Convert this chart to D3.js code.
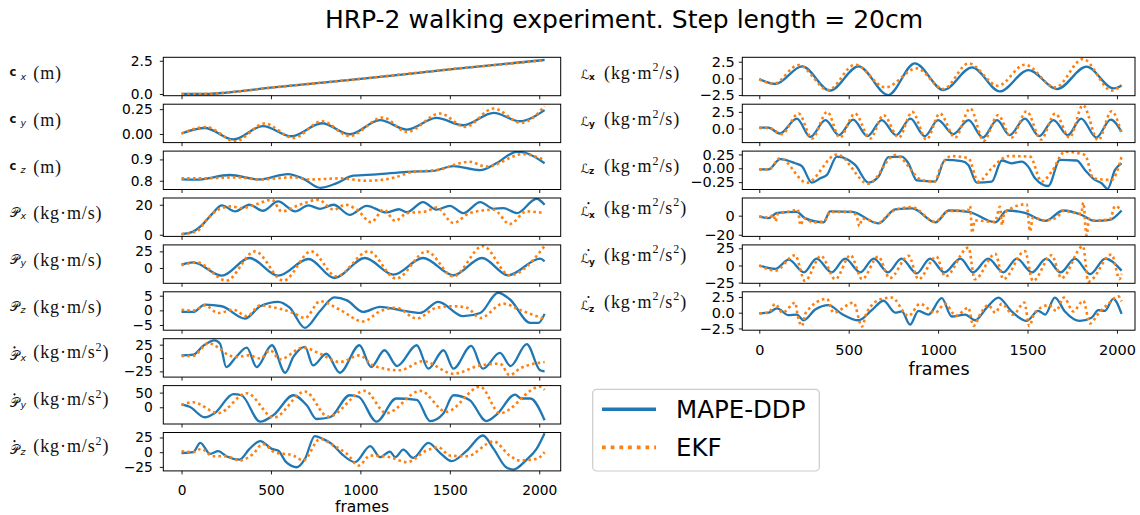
<!DOCTYPE html>
<html><head><meta charset="utf-8">
<script src="https://cdn.jsdelivr.net/npm/d3@7/dist/d3.min.js"></script>
<style>html,body{margin:0;padding:0;background:#fff;} svg{display:block;}</style>
</head><body>
<svg id="chart" width="1140" height="515" xmlns="http://www.w3.org/2000/svg"></svg>
<script>
// ---------------- DATA (frame, value) ----------------
const titleText = "HRP-2 walking experiment. Step length = 20cm";
const seriesNames = ["MAPE-DDP", "EKF"];
const frameTicks = [0, 500, 1000, 1500, 2000];

const cx_mape = [[0,0],[100,0],[160,0.01],[250,0.1],[500,0.47],[1000,1.13],[1500,1.85],[2000,2.52],[2030,2.56]];
const cx_ekf  = [[0,0],[100,0],[160,0.01],[250,0.1],[500,0.47],[1000,1.14],[1500,1.86],[2000,2.52],[2030,2.57]];
const cy_mape = [[0,0.005],[130,0.06],[290,-0.055],[455,0.08],[615,-0.023],[785,0.108],[940,-0.003],[1110,0.139],[1260,0.044],[1425,0.162],[1575,0.088],[1745,0.213],[1890,0.128],[2030,0.24]];
const cy_ekf  = [[0,0.005],[140,0.07],[300,-0.074],[465,0.105],[625,-0.04],[785,0.128],[940,-0.02],[1125,0.166],[1260,0.02],[1445,0.206],[1585,0.071],[1745,0.257],[1900,0.111],[2030,0.28]];
const cz_mape = [[0,0.806],[85,0.805],[270,0.827],[430,0.806],[595,0.831],[680,0.81],[775,0.767],[865,0.788],[960,0.824],[1090,0.83],[1260,0.842],[1405,0.846],[1520,0.869],[1670,0.85],[1760,0.882],[1875,0.936],[1930,0.929],[2030,0.882]];
const cz_ekf  = [[0,0.811],[120,0.811],[310,0.816],[440,0.806],[625,0.816],[720,0.806],[885,0.811],[1035,0.80],[1185,0.814],[1295,0.842],[1425,0.85],[1610,0.889],[1705,0.866],[1910,0.925],[2030,0.897]];

const px_mape = [[0,0.4],[65,2.2],[120,7.1],[175,14.4],[225,19.6],[300,15.6],[380,20],[455,16],[540,22.2],[635,15.6],[710,19.6],[775,17.3],[850,20],[940,13.3],[1035,19.3],[1145,14.9],[1215,17],[1260,15],[1350,21.8],[1425,16.7],[1500,19.3],[1575,14.4],[1670,21.8],[1745,17.3],[1800,17.8],[1875,14.4],[1985,24],[2030,20]];
const px_ekf  = [[0,0.4],[85,2.2],[140,10],[205,16.7],[280,18.9],[335,17.8],[420,20.4],[505,23.3],[560,15.6],[660,20],[765,23.3],[850,16.7],[915,20],[980,16.7],[1060,8.4],[1130,16.7],[1195,9.3],[1260,14.4],[1370,15.6],[1425,18.2],[1520,7.8],[1610,14.4],[1745,16.7],[1835,7.1],[1930,15.6],[2030,14.4]];
const py_mape = [[0,5],[65,8.5],[225,-11.5],[380,15],[540,-11.5],[710,13.5],[855,-15],[1025,15],[1185,-10],[1350,15],[1520,-11],[1680,15],[1825,-11],[2005,14],[2030,10]];
const py_ekf  = [[0,4],[85,8.5],[250,-19],[410,25],[570,-19],[725,25],[865,-12.5],[1045,25],[1200,-16],[1370,25],[1520,-12.5],[1685,33],[1835,-11],[2030,33]];
const pz_mape = [[0,-0.55],[65,-0.55],[130,1.95],[225,1.4],[355,-2.8],[440,1.4],[540,2.9],[605,0.9],[690,-6],[775,-0.2],[855,4.4],[925,3.4],[1015,-0.5],[1110,1.2],[1220,0.1],[1335,-0.85],[1435,2.9],[1575,-2],[1670,-0.9],[1770,6.0],[1835,3.8],[1950,-4.3],[1995,-4.3],[2030,-1.2]];
const pz_ekf  = [[0,0.2],[65,-0.1],[130,1.7],[205,-0.9],[290,0.2],[365,-2],[440,1.7],[515,1.0],[625,-0.9],[690,-2.6],[775,3.1],[885,0.2],[1015,-3.8],[1110,-0.3],[1200,0.9],[1315,-2.8],[1425,0.9],[1520,1.4],[1595,0.9],[1670,-2.6],[1800,2.3],[1890,0.2],[2030,-3]];

const pdx_mape = [[0,5],[65,6.3],[120,22.6],[185,33.2],[215,27],[250,-16.9],[305,2],[365,19.5],[420,-16.9],[505,23.9],[580,-27.6],[625,2],[690,20.8],[735,-13.8],[810,8],[885,-27.6],[995,23.9],[1060,-16.9],[1135,14.6],[1205,-15],[1315,23.9],[1380,-20],[1465,14.6],[1520,-20],[1620,22.6],[1685,-20],[1780,9.5],[1840,-15],[1930,26],[2005,-23],[2030,-25]];
const pdx_ekf  = [[0,3.8],[65,4],[150,28],[215,17],[250,8],[305,2],[375,5],[440,-1],[495,14.6],[550,-2.3],[680,19.5],[775,8],[885,-7.5],[995,5],[1070,-13.8],[1220,-23],[1350,-6],[1520,-29.4],[1670,-13.8],[1780,-10.6],[1835,-32],[1890,-20],[2030,-7.5]];
const pdy_mape = [[0,10],[45,2],[130,-34],[185,-20],[290,45],[335,41],[440,-49],[515,-26],[625,41],[700,6.8],[755,-40],[830,-34],[940,41],[990,36],[1090,-49],[1200,30],[1315,25],[1390,-47],[1465,-20],[1520,41],[1610,25],[1705,-47],[1760,-26],[1865,43],[1900,30],[1950,30],[2030,-44]];
const pdy_ekf  = [[0,7.9],[65,17],[205,-20],[365,48],[515,-35],[690,54],[820,-32],[1025,56],[1145,-20],[1335,56],[1480,-15],[1670,70],[1780,-20],[2005,70],[2030,59]];
const pdz_mape = [[0,-1.7],[65,0],[105,16],[160,-2.8],[205,1.7],[250,-6.8],[325,-12.5],[380,5.7],[440,18.7],[505,5.7],[540,2.8],[585,-17],[645,-25.6],[690,-11.4],[745,27.3],[790,22.7],[840,14.2],[895,-2.8],[970,-17],[1055,10.2],[1110,-8.5],[1165,1.1],[1195,-8.5],[1240,4.5],[1295,-9.7],[1380,16],[1445,-1.1],[1510,-15.3],[1595,2.8],[1685,28.4],[1745,5.7],[1815,-25.6],[1855,-29.5],[1930,-12.5],[1985,5.7],[2030,32.4]];
const pdz_ekf  = [[0,1.7],[65,0],[110,5.7],[175,-6.8],[250,-6.8],[325,-14],[400,-2.8],[455,14.2],[520,0],[625,-5.7],[680,-14],[775,22.7],[850,11.3],[925,-2.8],[990,-22.7],[1055,-5.7],[1165,-8.5],[1260,-17],[1370,2.8],[1435,8.5],[1500,-5.7],[1595,-6.8],[1745,18.2],[1835,-5.7],[1890,-14],[1985,-11.4],[2030,0]];

const lx_mape = [[0,-0.1],[90,-0.84],[240,1.8],[395,-1.84],[555,1.8],[720,-2.5],[870,2.25],[1030,-1.75],[1190,1.65],[1345,-1.95],[1505,1.25],[1665,-1.6],[1830,1.75],[1980,-1.5],[2026,-1.1]];
const lx_ekf  = [[0,-0.15],[80,-0.8],[220,2.0],[385,-1.75],[535,2.05],[705,-1.35],[880,1.5],[1030,-1.6],[1170,2.25],[1335,-1.1],[1485,2.05],[1655,-1.35],[1810,2.9],[1970,-1.84],[2026,-1.0]];
const ly_mape = [[0,0.15],[50,0.15],[115,-0.75],[210,1.5],[285,-1.25],[370,1.25],[445,-1],[525,1.35],[605,-1.15],[685,1.25],[765,-1],[845,1.5],[925,-1.15],[1000,1.25],[1085,-0.85],[1170,1.25],[1250,-1.35],[1330,1.25],[1400,-1],[1485,1.5],[1565,-1.15],[1645,1.25],[1725,-1],[1800,1.5],[1885,-1.35],[1965,1.35],[2026,-0.5]];
const ly_ekf  = [[0,0.1],[55,0.1],[125,-0.85],[220,2.25],[295,-1.5],[380,2.5],[450,-1.35],[535,2.25],[620,-1.5],[695,2.0],[780,-1.35],[855,2.5],[935,-1.65],[1010,2.25],[1095,-1.35],[1180,3.0],[1255,-1.85],[1335,2.0],[1410,-1.35],[1495,2.6],[1575,-1.65],[1655,2.25],[1735,-1.35],[1810,3.5],[1895,-1.75],[1970,2.6],[2026,-0.75]];
const lz_mape = [[0,-0.018],[52,-0.018],[117,0.165],[201,0.09],[238,0.04],[294,-0.26],[341,-0.18],[378,-0.12],[434,0.21],[499,0.15],[536,0.06],[611,-0.26],[667,-0.15],[722,0.20],[797,0.21],[834,0.09],[881,-0.22],[983,-0.24],[1039,0.15],[1132,0.13],[1169,0.06],[1216,-0.26],[1300,-0.24],[1356,0.14],[1411,0.09],[1467,0.12],[1504,0.03],[1542,-0.18],[1616,-0.32],[1681,0.15],[1775,0.14],[1821,-0.03],[1877,-0.21],[1914,-0.27],[1948,-0.37],[1989,-0.03],[2026,0.09]];
const lz_ekf  = [[0,-0.02],[52,-0.02],[117,0.18],[266,-0.26],[434,0.25],[611,-0.28],[760,0.24],[909,-0.21],[983,-0.24],[1011,0.0],[1076,0.22],[1169,0.18],[1225,-0.24],[1300,0.0],[1393,0.22],[1514,0.21],[1579,-0.24],[1635,-0.06],[1709,0.30],[1821,0.24],[1868,-0.18],[1970,-0.21],[2026,0.21]];

const ldx_mape = [[0,-0.8],[50,-2.6],[100,2.9],[210,4],[255,-2.6],[360,-7],[395,4.4],[520,4],[665,-8.1],[760,6.5],[855,7.6],[985,-7],[1060,5.4],[1170,4],[1320,-7],[1385,5.4],[1485,2.9],[1600,-5.5],[1700,5.4],[1800,1],[1875,-5.5],[1960,-4.4],[2026,5.4]];
const ldx_ekf  = [[0,-0.8],[55,-2],[80,1],[90,-6],[105,2.5],[185,5],[215,6.5],[230,-9.9],[250,-3],[300,-7],[360,-6],[400,4],[520,4],[548,-3],[560,-11],[575,-3],[667,-7.5],[713,-0.4],[760,6],[853,9],[983,-6.5],[1058,5],[1165,5],[1179,10],[1190,-18],[1205,-5],[1318,-6.5],[1346,9.3],[1358,-9.9],[1370,3],[1495,12],[1514,-16.4],[1530,-2],[1598,-5],[1663,-2],[1700,5],[1800,2],[1812,13.8],[1830,-20.7],[1845,-3],[1877,-5],[1961,-4],[1989,10],[2026,6]];
const ldy_mape = [[0,0],[90,-5],[165,8.5],[250,-10],[320,10],[405,-10],[480,10],[565,-10],[640,10],[720,-10],[795,10],[880,-11.5],[955,10],[1035,-10],[1125,10],[1195,-10],[1280,10],[1365,-10],[1440,10],[1525,-10],[1605,10],[1685,-10],[1765,10],[1850,-12.5],[1935,10],[2026,-7.5]];
const ldy_ekf  = [[0,0],[90,-7.5],[200,15],[255,-22.5],[345,14],[425,-20],[510,15],[575,-20],[665,13],[730,-18.5],[835,14],[890,-20],[990,13],[1040,-16],[1170,26],[1205,-20],[1320,17],[1365,-20],[1485,21],[1530,-22.5],[1635,15],[1690,-18.5],[1810,28],[1840,-23.5],[1970,16],[2015,-20],[2026,-12]];
const ldz_mape = [[0,-0.1],[52,0],[99,0.7],[164,-0.4],[210,-0.3],[248,-1.2],[313,0.5],[387,1.2],[462,-0.2],[555,-1.2],[629,0.4],[695,1.9],[760,0],[797,0.2],[843,-1.9],[890,0.3],[946,-0.3],[1020,2.3],[1076,-0.6],[1151,-0.3],[1207,-1.2],[1272,0.8],[1337,2.4],[1411,0.2],[1495,-1.3],[1560,0.3],[1598,-0.3],[1653,2.4],[1709,0.2],[1793,-1.3],[1858,-0.8],[1896,0.4],[1933,0.3],[1979,2.2],[2026,-0.2]];
const ldz_ekf  = [[0,-0.1],[52,0],[89,1.4],[130,0],[201,1.6],[215,-0.5],[238,-2.1],[260,0],[378,2.2],[415,0],[527,1.6],[574,-2.2],[600,0],[685,2.2],[741,2.4],[834,-0.5],[899,1.4],[983,0],[1039,1.4],[1100,-0.5],[1169,0.8],[1197,-2.1],[1240,0],[1281,1.2],[1320,0],[1355,1.4],[1420,-0.3],[1482,1.6],[1510,-2.1],[1540,0],[1621,1.2],[1660,0.3],[1704,2.4],[1755,0.2],[1812,1.9],[1849,-1.7],[1900,0],[1952,1.4],[2008,2.6],[2026,1.8]];

// tick values per panel
const cxTicks = [0, 2.5], cyTicks = [0, 0.25], czTicks = [0.8, 0.9];
const pxTicks = [0, 20], pyTicks = [0, 25], pzTicks = [-5, 0, 5];
const pdxTicks = [-25, 0, 25], pdyTicks = [0, 50], pdzTicks = [-25, 0, 25];
const lxTicks = [-2.5, 0, 2.5], lyTicks = [0, 2.5], lzTicks = [-0.25, 0, 0.25];
const ldxTicks = [-20, 0], ldyTicks = [-25, 0, 25], ldzTicks = [-2.5, 0, 2.5];

// ---------------- CONFIG ----------------
const leftPanels = [
  {sym:'c', sub:'x', unit:['(m)'], mape:cx_mape, ekf:cx_ekf, ticks:cxTicks, fmt:'.1f', dom:[-0.13,2.76]},
  {sym:'c', sub:'y', unit:['(m)'], mape:cy_mape, ekf:cy_ekf, ticks:cyTicks, fmt:'.2f', dom:[-0.087,0.30]},
  {sym:'c', sub:'z', unit:['(m)'], mape:cz_mape, ekf:cz_ekf, ticks:czTicks, fmt:'.1f', dom:[0.759,0.939]},
  {sym:'P', sub:'x', unit:['(kg·m/s)'], mape:px_mape, ekf:px_ekf, ticks:pxTicks, fmt:'d', dom:[-1.1,24.5]},
  {sym:'P', sub:'y', unit:['(kg·m/s)'], mape:py_mape, ekf:py_ekf, ticks:pyTicks, fmt:'d', dom:[-23,34.7]},
  {sym:'P', sub:'z', unit:['(kg·m/s)'], mape:pz_mape, ekf:pz_ekf, ticks:pzTicks, fmt:'d', dom:[-6.77,6.33]},
  {sym:'Pd', sub:'x', unit:['(kg·m/s','^2',')'], mape:pdx_mape, ekf:pdx_ekf, ticks:pdxTicks, fmt:'d', dom:[-35.7,36.2]},
  {sym:'Pd', sub:'y', unit:['(kg·m/s','^2',')'], mape:pdy_mape, ekf:pdy_ekf, ticks:pdyTicks, fmt:'d', dom:[-57,73.9]},
  {sym:'Pd', sub:'z', unit:['(kg·m/s','^2',')'], mape:pdz_mape, ekf:pdz_ekf, ticks:pdzTicks, fmt:'d', dom:[-31.8,33.5]}
];
const rightPanels = [
  {sym:'L', sub:'x', unit:['(kg·m','^2','/s)'], mape:lx_mape, ekf:lx_ekf, ticks:lxTicks, fmt:'.1f', dom:[-2.6,3.16]},
  {sym:'L', sub:'y', unit:['(kg·m','^2','/s)'], mape:ly_mape, ekf:ly_ekf, ticks:lyTicks, fmt:'.1f', dom:[-2.11,3.65]},
  {sym:'L', sub:'z', unit:['(kg·m','^2','/s)'], mape:lz_mape, ekf:lz_ekf, ticks:lzTicks, fmt:'.2f', dom:[-0.383,0.31]},
  {sym:'Ld', sub:'x', unit:['(kg·m','^2','/s','^2',')'], mape:ldx_mape, ekf:ldx_ekf, ticks:ldxTicks, fmt:'d', dom:[-21.7,18.5]},
  {sym:'Ld', sub:'y', unit:['(kg·m','^2','/s','^2',')'], mape:ldy_mape, ekf:ldy_ekf, ticks:ldyTicks, fmt:'d', dom:[-26,30]},
  {sym:'Ld', sub:'z', unit:['(kg·m','^2','/s','^2',')'], mape:ldz_mape, ekf:ldz_ekf, ticks:ldzTicks, fmt:'.1f', dom:[-2.78,3.32]}
];

const SANS = "'DejaVu Sans', sans-serif";
const SERIF = "'Liberation Serif', 'DejaVu Serif', serif";
const SCRIPTF = "'DejaVu Serif', 'DejaVu Sans', 'Noto Sans', serif";
const BLUE = '#1f77b4', ORANGE = '#ff7f0e';
const layout = {top0:57.3, step:46.9, h:38.4};
const cols = {
  left:  {x0:163.3, x1:560.7, dom:[-102,2120], tickFont:13.8, yPad:7, xPad:10.5, xlabBase:512, xlabFont:15.5, symX:9.5, subX:20.5, unitX:33.3, xlabX:362},
  right: {x0:742.3, x1:1135, dom:[-95,2101], tickFont:14.5, yPad:4, xPad:11, xlabBase:375, xlabFont:17.5, symX:580.5, subX:589, unitX:604, xlabX:939}
};
// label vertical offsets relative to panel centre
const labelOff = {
  c:  {sym:-0.5, sub:3,   unit:2.7},
  P:  {sym:-0.5, sub:1.5, unit:1.5},
  Pd: {sym:2.5,  sub:3.5, unit:0.5, dotX:14.5, dotY:-10.5},
  L:  {sym:2.8,  sub:3.5, unit:2.0},
  Ld: {sym:-1.5, sub:0.5, unit:-3.5, dotX:588.5, dotY:-14}
};

const svg = d3.select('#chart');
svg.append('rect').attr('width',1140).attr('height',515).attr('fill','#fff');

svg.append('text').attr('x',624).attr('y',27.5).attr('text-anchor','middle')
  .attr('font-family',SANS).attr('font-size',25).attr('fill','#000').text(titleText);

const minus = s => s.replace(/-/g,'\u2212');

function drawLabel(col, p, cy, right){
  const off = labelOff[p.sym];
  const base = (p.sym === 'c') ? 'c' : (p.sym[0] === 'P' ? '\u{1D4AB}' : '\u2112');
  const symText = svg.append('text').attr('x', col.symX).attr('y', cy + off.sym).attr('fill','#111');
  if (p.sym === 'c') {
    symText.attr('font-family', SANS).attr('font-weight','bold').attr('font-size',11.5).text(base);
  } else {
    symText.attr('font-family', SCRIPTF).attr('font-size', p.sym[0]==='P'?12.5:12.5).text(base);
  }
  if (off.dotX !== undefined) {
    svg.append('circle').attr('cx', off.dotX).attr('cy', cy + off.dotY).attr('r',1.1).attr('fill','#111');
  }
  svg.append('text').attr('x', col.subX).attr('y', cy + off.sub)
    .attr('font-family', SANS).attr('font-size', right?9:9.5)
    .attr('font-weight', right?'bold':'normal').attr('font-style', right?'normal':'italic')
    .attr('fill','#111').text(p.sub);
  const ut = svg.append('text').attr('x', col.unitX).attr('y', cy + off.unit)
    .attr('font-family', SERIF).attr('font-size',18).attr('letter-spacing',0.9).attr('fill','#111');
  let raised = false;
  p.unit.forEach(part => {
    if (part.startsWith('^')) {
      ut.append('tspan').attr('font-size',12).attr('dy',-7.5).text(part.slice(1));
      raised = true;
    } else {
      const ts = ut.append('tspan').text(part);
      if (raised) { ts.attr('dy',7.5); raised = false; }
    }
  });
}

function drawColumn(col, panels, name, right){
  const x = d3.scaleLinear().domain(col.dom).range([col.x0, col.x1]);
  panels.forEach((p,i) => {
    const top = layout.top0 + layout.step*i, bot = top + layout.h, cy = top + layout.h/2;
    const y = d3.scaleLinear().domain(p.dom).range([bot, top]);
    const cid = `clip-${name}-${i}`;
    svg.append('clipPath').attr('id',cid).append('rect')
      .attr('x',col.x0).attr('y',top).attr('width',col.x1-col.x0).attr('height',layout.h);
    const line = d3.line().x(d=>x(d[0])).y(d=>y(d[1])).curve(d3.curveMonotoneX);
    const lg = svg.append('g').attr('clip-path',`url(#${cid})`);
    lg.append('path').datum(p.mape).attr('d',line).attr('fill','none')
      .attr('stroke',BLUE).attr('stroke-width',2.3).attr('stroke-linejoin','round');
    lg.append('path').datum(p.ekf).attr('d',line).attr('fill','none')
      .attr('stroke',ORANGE).attr('stroke-width',2.6).attr('stroke-dasharray','2.6 3.1');

    const last = i === panels.length-1;
    const xa = svg.append('g').attr('transform',`translate(0,${bot})`)
      .call(d3.axisBottom(x).tickValues(frameTicks).tickSize(3.5).tickPadding(col.xPad)
        .tickFormat(last ? d3.format('d') : () => ''));
    const ya = svg.append('g').attr('transform',`translate(${col.x0},0)`)
      .call(d3.axisLeft(y).tickValues(p.ticks).tickSize(3.5).tickPadding(col.yPad)
        .tickFormat(v => minus(d3.format(p.fmt)(v))));
    [xa, ya].forEach(a => {
      a.select('.domain').remove();
      a.selectAll('line').attr('stroke','#000').attr('stroke-width',0.9);
      a.selectAll('text').attr('font-family',SANS).attr('font-size',col.tickFont).attr('fill','#000');
    });
    svg.append('rect').attr('x',col.x0).attr('y',top).attr('width',col.x1-col.x0).attr('height',layout.h)
      .attr('fill','none').attr('stroke','#000').attr('stroke-width',1);
    drawLabel(col, p, cy, right);
  });
  svg.append('text').attr('x',col.xlabX).attr('y',col.xlabBase).attr('text-anchor','middle')
    .attr('font-family',SANS).attr('font-size',col.xlabFont).attr('fill','#000').text('frames');
}

drawColumn(cols.left, leftPanels, 'L', false);
drawColumn(cols.right, rightPanels, 'R', true);

// legend
const leg = svg.append('g');
leg.append('rect').attr('x',592.7).attr('y',389.3).attr('width',226.6).attr('height',81.7).attr('rx',4)
  .attr('fill','#fff').attr('fill-opacity',0.8).attr('stroke','#cccccc').attr('stroke-width',1.2);
const legItems = [{name:seriesNames[0], color:BLUE, dash:null, y:409.3},
                  {name:seriesNames[1], color:ORANGE, dash:'3.7 5', y:447.3}];
legItems.forEach(it => {
  const l = leg.append('line').attr('x1',602).attr('x2',656).attr('y1',it.y).attr('y2',it.y)
    .attr('stroke',it.color).attr('stroke-width',it.dash?3.8:3.6);
  if (it.dash) l.attr('stroke-dasharray',it.dash);
  leg.append('text').attr('x',676).attr('y',it.y+8.8).attr('font-family',SANS)
    .attr('font-size',24.5).attr('fill','#000').text(it.name);
});
</script>
</body></html>
